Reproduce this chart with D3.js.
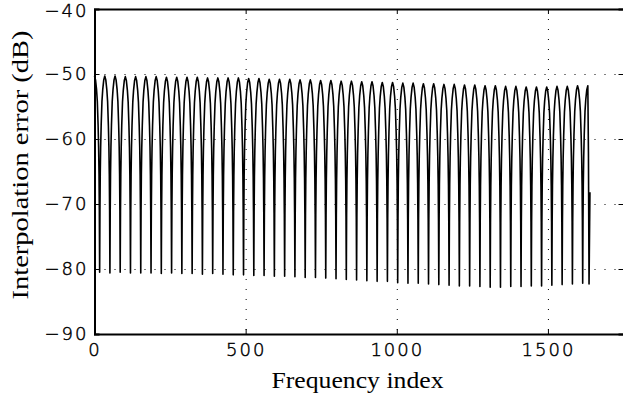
<!DOCTYPE html>
<html>
<head>
<meta charset="utf-8">
<script src="https://cdn.jsdelivr.net/npm/d3@7"></script>
<style>
  body { margin: 0; background: #fff; }
  .tick text { font-family: "DejaVu Sans", sans-serif; font-size: 18px; font-weight: 200; letter-spacing: 2px; fill: #000; stroke: #000; stroke-width: 0.45px; }
  .axis-label { font-family: "Liberation Serif", serif; font-size: 23px; fill: #000; }
</style>
</head>
<body>
<div id="chart"></div>
<script>
// peak level of each lobe, lobes every 34 bins starting at bin 0
const lobeStep = 34
const peakDb = [
  -50.3, -50.3, -50.3, -50.4, -50.4, -50.4, -50.4, -50.5, -50.5, -50.5,
  -50.5, -50.6, -50.6, -50.6, -50.6, -50.7, -50.7, -50.8, -50.8, -50.8,
  -50.9, -50.9, -51.0, -51.0, -51.1, -51.1, -51.2, -51.2, -51.3, -51.3,
  -51.4, -51.4, -51.5, -51.5, -51.6, -51.6, -51.7, -51.7, -51.8, -51.8,
  -51.9, -51.9, -52.0, -52.0, -52.0, -51.9, -51.9, -51.8, -51.8
]
// null level between lobes (at bin 17 + 34k)
const troughDb = [
  -80.5, -80.6, -80.5, -80.6, -80.6, -80.6, -80.7, -80.6, -80.7, -80.7,
  -80.8, -80.7, -80.8, -80.9, -80.9, -81.0, -81.0, -81.1, -81.1, -81.2,
  -81.3, -81.3, -81.4, -81.5, -81.6, -81.7, -81.8, -81.9, -81.9, -82.1,
  -82.2, -82.2, -82.3, -82.4, -82.5, -82.6, -82.6, -82.7, -82.8, -82.8,
  -82.7, -82.7, -82.6, -82.6, -82.5, -82.4, -82.3, -82.2
]
// lobe shape: position along the half lobe, share of the drop
const shapePos = [0, 0.2, 0.4, 0.55, 0.7, 0.8, 0.88, 0.94, 1]
const shapeDrop = [0, 0.02, 0.07, 0.13, 0.25, 0.36, 0.5, 0.68, 1]
// last few bins after the final lobe
const tailIdx = [1634, 1636, 1639]
const tailDb = [-62, -82.3, -68.2]

const xTicks = [0, 500, 1000, 1500]
const yTicks = [-90, -80, -70, -60, -50, -40]

let dms = {
  width: 623,
  height: 401,
  margin: { top: 9, left: 94.5 }
}
dms.chartWidth = 529
dms.chartHeight = 325

// build the curve vertices from lobes and nulls
const points = []
peakDb.forEach((p, k) => {
  const x0 = k * lobeStep
  if (k > 0) {
    const tPrev = troughDb[k - 1]
    // rising side, from null to peak
    for (let i = shapePos.length - 2; i >= 1; i--) {
      points.push([x0 - shapePos[i] * lobeStep / 2, p + (tPrev - p) * shapeDrop[i]])
    }
  }
  points.push([x0, p])
  if (k < troughDb.length) {
    const t = troughDb[k]
    for (let i = 1; i < shapePos.length; i++) {
      points.push([x0 + shapePos[i] * lobeStep / 2, p + (t - p) * shapeDrop[i]])
    }
  }
})
tailIdx.forEach((x, i) => points.push([x, tailDb[i]]))

const svg = d3.select('#chart').append('svg')
  .attr('width', dms.width)
  .attr('height', dms.height)

const content = svg.append('g')
  .attr('transform', `translate(${dms.margin.left}, ${dms.margin.top})`)

const xScale = d3.scaleLinear().domain([0, 1750]).range([0, dms.chartWidth])
const yScale = d3.scaleLinear().domain([-90, -40]).range([dms.chartHeight, 0])

// dotted grid
const gridX = content.append('g')
  .call(d3.axisBottom(xScale).tickValues(xTicks.slice(1)).tickSize(dms.chartHeight).tickFormat(''))
gridX.select('.domain').remove()
const gridY = content.append('g')
  .call(d3.axisLeft(yScale).tickValues(yTicks.slice(1, -1)).tickSize(-dms.chartWidth).tickFormat(''))
gridY.select('.domain').remove()
content.selectAll('g line')
  .attr('stroke', '#000')
  .attr('stroke-width', 1)
  .attr('stroke-dasharray', '1,9')

// the error curve
content.append('path')
  .datum(points)
  .attr('fill', 'none')
  .attr('stroke', '#000')
  .attr('stroke-width', 1.6)
  .attr('stroke-linejoin', 'round')
  .attr('d', d3.line().x(d => xScale(d[0])).y(d => yScale(d[1])))

// axes with inward ticks on all sides
const fmt = d => d < 0 ? '\u2212' + Math.abs(d) : d
const axes = content.append('g').attr('class', 'axes')
axes.append('g')
  .attr('transform', `translate(0, ${dms.chartHeight})`)
  .call(d3.axisBottom(xScale).tickValues(xTicks).tickSize(-5).tickPadding(9).tickFormat(fmt))
axes.append('g')
  .call(d3.axisTop(xScale).tickValues(xTicks).tickSize(-5).tickFormat(''))
const yAxis = axes.append('g')
  .call(d3.axisLeft(yScale).tickValues(yTicks).tickSize(-5).tickPadding(6).tickFormat(fmt))
// keep the top label inside the page
yAxis.selectAll('.tick text').filter(d => d === -40).attr('dy', '0.42em')
axes.append('g')
  .attr('transform', `translate(${dms.chartWidth}, 0)`)
  .call(d3.axisRight(yScale).tickValues(yTicks).tickSize(-5).tickFormat(''))
axes.selectAll('.domain').attr('stroke', '#000').attr('stroke-width', 2)
axes.selectAll('.tick line').attr('stroke', '#000').attr('stroke-width', 1)

content.append('text')
  .attr('class', 'axis-label')
  .attr('x', 263)
  .attr('y', 379)
  .attr('text-anchor', 'middle')
  .attr('textLength', 172)
  .attr('lengthAdjust', 'spacingAndGlyphs')
  .text('Frequency index')

content.append('text')
  .attr('class', 'axis-label')
  .attr('transform', `translate(-67, 156) rotate(-90)`)
  .attr('text-anchor', 'middle')
  .attr('textLength', 269)
  .attr('lengthAdjust', 'spacingAndGlyphs')
  .text('Interpolation error (dB)')
</script>
</body>
</html>
